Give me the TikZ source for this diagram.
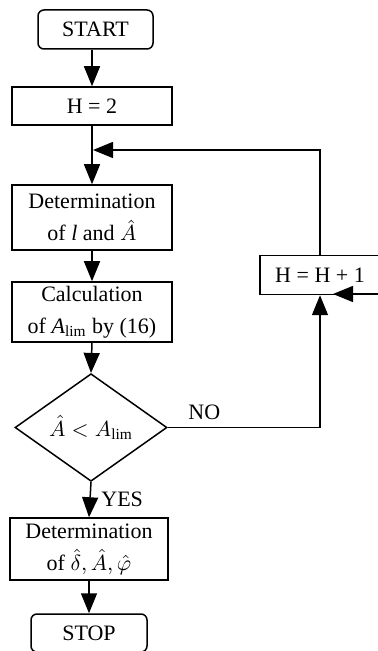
\documentclass[tikz,border=0pt]{standalone}
\usepackage{fontspec}
\setmainfont{Liberation Serif}
\usetikzlibrary{arrows.meta, positioning, shapes.geometric}

\begin{document}
\begin{tikzpicture}[
    x=0.5pt, y=-0.5pt,
    block/.style={rectangle, draw, line width=0.75pt, align=center, inner sep=0pt, font=\fontsize{11}{16}\selectfont},
    term/.style={block, rounded corners=3pt},
    test/.style={diamond, draw, line width=0.75pt, inner sep=0pt, minimum width=76pt, minimum height=51.5pt, font=\fontsize{11}{14}\selectfont},
    arrow/.style={-{Triangle[length=10pt, width=8pt]}, line width=0.75pt},
    signal/.style={font=\fontsize{11}{14}\selectfont}
]
\useasboundingbox (0,0) rectangle (377,651);

\node[term, minimum width=57.5pt, minimum height=19.5pt] (start) at (95.5,29.5) {START};
\node[block, minimum width=80pt, minimum height=19pt] (init) at (92,106) {H = 2};
\node[block, minimum width=80pt, minimum height=32.5pt] (detl) at (92,217.5) {Determination\\ of \textit{l} and $\hat{A}$};
\node[block, minimum width=80pt, minimum height=30pt] (calc) at (92,312) {Calculation\\ of \textit{A}\textsubscript{lim} by (16)};
\node[test] (cmp) at (91,427.5) {$\hat{A} < A_{\mathrm{lim}}$};
\node[block, minimum width=60pt, minimum height=19.5pt] (incr) at (320,275) {H = H + 1};
\node[block, minimum width=79pt, minimum height=31pt] (detd) at (89,549) {Determination\\ of $\hat{\delta}, \hat{A}, \hat{\varphi}$};
\node[term, minimum width=58pt, minimum height=19pt] (stop) at (89,633) {STOP};

\coordinate (merge) at (93,150);
\coordinate (edge) at (380,294);

\draw[arrow] (init.north |- start.south) -- (init.north);
\draw[arrow] (init.south) -- (detl.north);
\draw[arrow] (detl.south) -- (calc.north);
\draw[arrow] (calc.south) -- (cmp.north);
\draw[arrow] (cmp.east) -| node[pos=0.12, above, signal] {NO} (incr.south);
\draw[arrow] (incr.north) |- (merge);
\draw[arrow] (cmp.south) -- node[midway, right, signal, xshift=2pt] {YES} (detd.north);
\draw[arrow] (detd.south) -- (stop.north);
\draw[arrow] (edge) -- (333,294);

\end{tikzpicture}
\end{document}
